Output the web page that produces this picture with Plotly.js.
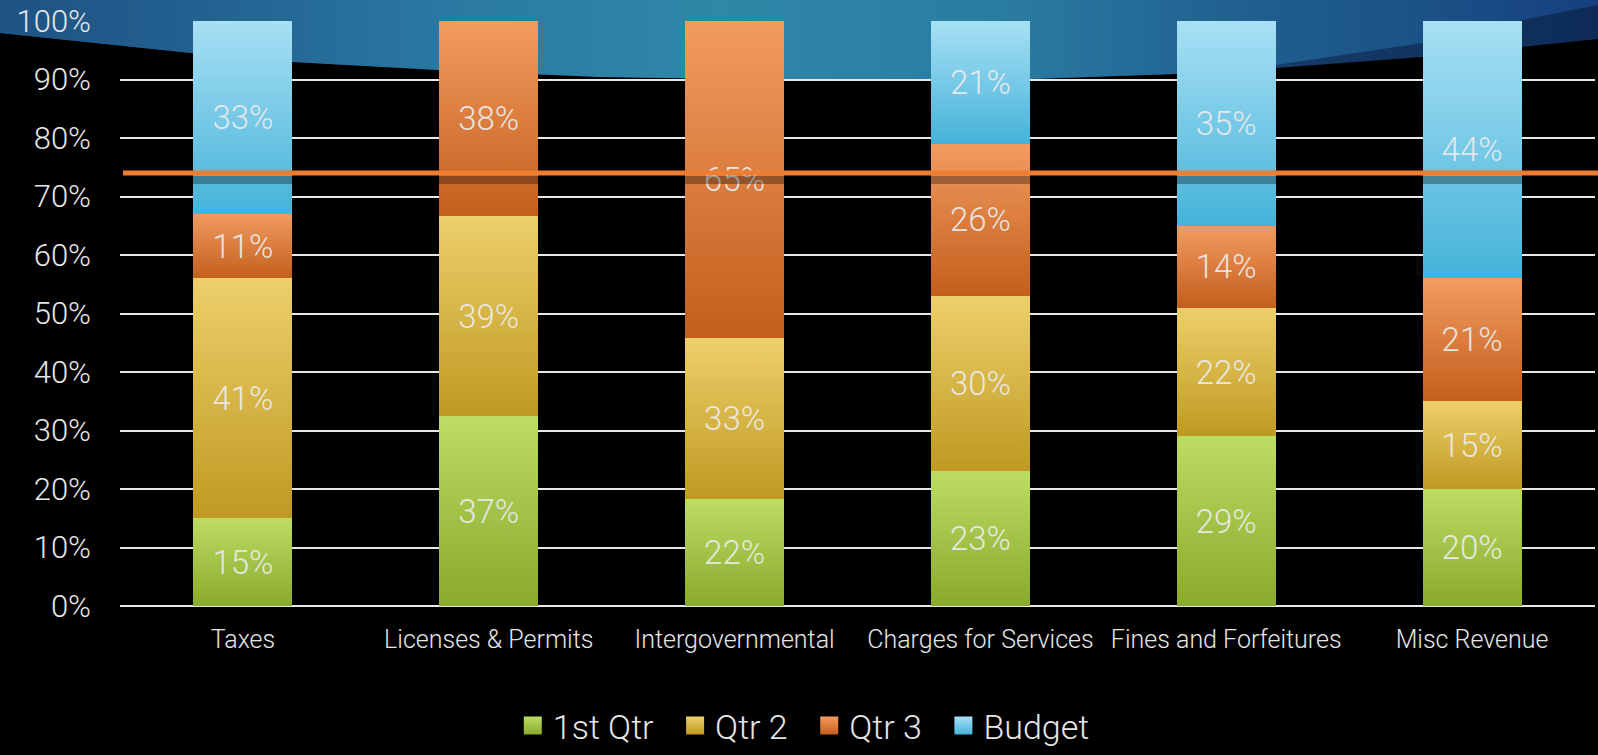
<!DOCTYPE html>
<html>
<head>
<meta charset="utf-8">
<script src="https://cdn.plot.ly/plotly-3.0.1.min.js"></script>
<style>
  html, body { margin: 0; padding: 0; background: #000; }
  #chart { width: 1598px; height: 755px; }
</style>
</head>
<body>
<div id="chart"></div>
<script>
// ---- data ----
var categories = ["Taxes", "Licenses & Permits", "Intergovernmental", "Charges for Services", "Fines and Forfeitures", "Misc Revenue"];
var seriesNames = ["1st Qtr", "Qtr 2", "Qtr 3", "Budget"];
var qtr1   = [15, 37, 22, 23, 29, 20];
var qtr2   = [41, 39, 33, 30, 22, 15];
var qtr3   = [11, 38, 65, 26, 14, 21];
var budget = [33, 0, 0, 21, 35, 44];
var targetLine = [74];
var yTickVals = [0, 10, 20, 30, 40, 50, 60, 70, 80, 90, 100];

// ---- styles ----
var W = 1598, H = 755;
var M = { l: 120, r: 3, t: 21, b: 149 };
var plotW = W - M.l - M.r, plotH = H - M.t - M.b;
var FONT = "Roboto, 'Open Sans', sans-serif";
var solid = ["#A3C54A", "#D8B545", "#DC7A3C", "#6DC3E3"];
var grads = [
  ["#BCDC62", "#8AAA2E"],
  ["#EDCF6B", "#BF9A22"],
  ["#F29B61", "#C35F1C"],
  ["#A8E0F4", "#45B3D9"]
];
var seriesVals = [qtr1, qtr2, qtr3, budget];
var NB = "\u00a0\u00a0";

var data = seriesVals.map(function (vals, i) {
  return {
    type: "bar",
    name: seriesNames[i] + (i < seriesVals.length - 1 ? NB : ""),
    x: categories,
    y: vals,
    text: vals.map(function (v) { return v ? v + "%" : ""; }),
    textposition: "inside",
    insidetextanchor: "middle",
    textangle: 0,
    constraintext: "none",
    textfont: { family: FONT, size: 33, color: "rgba(235,235,235,0.95)", weight: 300 },
    marker: { color: solid[i], line: { width: 0 } },
    hoverinfo: "skip"
  };
});

// decorative wave background (theme artwork)
var bgSvg =
  '<svg xmlns="http://www.w3.org/2000/svg" width="1598" height="755" viewBox="0 0 1598 755">' +
  '<defs>' +
  '<linearGradient id="wb" x1="0" y1="0" x2="1" y2="0">' +
  '<stop offset="0" stop-color="#1F5384"/>' +
  '<stop offset="0.12" stop-color="#22608F"/>' +
  '<stop offset="0.28" stop-color="#2A79A2"/>' +
  '<stop offset="0.45" stop-color="#2F88A8"/>' +
  '<stop offset="0.63" stop-color="#2A7BA2"/>' +
  '<stop offset="0.78" stop-color="#205F8F"/>' +
  '<stop offset="0.89" stop-color="#1B5287"/>' +
  '<stop offset="1" stop-color="#163F7E"/>' +
  '</linearGradient>' +
  '<linearGradient id="wn" x1="0" y1="0" x2="1" y2="0">' +
  '<stop offset="0.75" stop-color="#173F6C"/>' +
  '<stop offset="1" stop-color="#0E2B58"/>' +
  '</linearGradient>' +
  '</defs>' +
  '<path fill="url(#wn)" d="M0,0 L1598,0 L1598,39 L1522,47 L1422,57 L1276,68 L1175,74 L1030,79 L880,80 L740,79 L600,77 L439,70 L293,62 L191,53 L0,33 Z"/>' +
  '<path fill="url(#wb)" d="M0,0 L1598,0 L1598,5 L1522,20 L1422,43 L1276,65 L1175,74 L1030,79 L880,80 L740,79 L600,77 L439,70 L293,62 L191,53 L0,33 Z"/>' +
  '</svg>';

var tY = targetLine[0] / 100;

var layout = {
  width: W,
  height: H,
  margin: M,
  paper_bgcolor: "#000000",
  plot_bgcolor: "rgba(0,0,0,0)",
  barmode: "stack",
  barnorm: "percent",
  bargap: 0.597,
  showlegend: true,
  font: { family: FONT, color: "#E6E6E6", weight: 300 },
  xaxis: {
    type: "category",
    showgrid: false,
    zeroline: false,
    showline: false,
    ticks: "",
    ticklabelstandoff: 16,
    tickfont: { family: FONT, size: 25, color: "#E6E6E6", weight: 300 },
    fixedrange: true,
    automargin: false
  },
  yaxis: {
    range: [0, 100],
    tickvals: yTickVals,
    ticktext: yTickVals.map(function (v) { return v + "%"; }),
    showgrid: true,
    gridcolor: "#E8E8E8",
    gridwidth: 2,
    zeroline: true,
    zerolinecolor: "#E8E8E8",
    zerolinewidth: 2,
    showline: false,
    ticks: "",
    ticklabelstandoff: 28,
    tickfont: { family: FONT, size: 31, color: "#E6E6E6", weight: 300 },
    fixedrange: true,
    automargin: false
  },
  legend: {
    orientation: "h",
    traceorder: "normal",
    xref: "container",
    yref: "container",
    x: 0.503,
    xanchor: "center",
    y: -0.009,
    yanchor: "bottom",
    font: { family: FONT, size: 34, color: "#E6E6E6", weight: 300 },
    bgcolor: "rgba(0,0,0,0)",
    borderwidth: 0,
    itemclick: false
  },
  images: [{
    source: "data:image/svg+xml;charset=utf-8," + encodeURIComponent(bgSvg),
    xref: "paper", yref: "paper",
    x: -M.l / plotW, y: 1 + M.t / plotH,
    sizex: W / plotW, sizey: H / plotH,
    xanchor: "left", yanchor: "top",
    sizing: "stretch",
    layer: "below"
  }],
  shapes: [
    {
      type: "line", xref: "paper", yref: "paper",
      x0: 0, x1: 1.002, y0: tY - 7 / plotH, y1: tY - 7 / plotH,
      line: { color: "rgba(0,0,0,0.32)", width: 8 },
      layer: "above"
    },
    {
      type: "line", xref: "paper", yref: "paper",
      x0: 0.002, x1: 1.002, y0: tY, y1: tY,
      line: { color: "#ED7D31", width: 5 },
      layer: "above"
    }
  ]
};

var gd = document.getElementById("chart");
Plotly.newPlot(gd, data, layout, { staticPlot: true, displayModeBar: false }).then(function () {
  var NS = "http://www.w3.org/2000/svg";
  var svg = gd.querySelector("svg.main-svg");
  var defs = svg.querySelector("defs") || svg.insertBefore(document.createElementNS(NS, "defs"), svg.firstChild);
  grads.forEach(function (g, i) {
    var lg = document.createElementNS(NS, "linearGradient");
    lg.setAttribute("id", "barGrad" + i);
    lg.setAttribute("x1", "0"); lg.setAttribute("y1", "0");
    lg.setAttribute("x2", "0"); lg.setAttribute("y2", "1");
    [[0, g[0]], [1, g[1]]].forEach(function (s) {
      var st = document.createElementNS(NS, "stop");
      st.setAttribute("offset", s[0]);
      st.setAttribute("stop-color", s[1]);
      lg.appendChild(st);
    });
    defs.appendChild(lg);
  });
  gd.querySelectorAll(".barlayer .trace").forEach(function (t, i) {
    var idx = i;
    try { idx = t.__data__[0].trace.index; } catch (e) {}
    t.querySelectorAll("path").forEach(function (p) {
      p.style.fill = "url(#barGrad" + idx + ")";
    });
  });
  gd.querySelectorAll(".legend .traces").forEach(function (t, i) {
    var idx = i;
    try { idx = t.__data__[0].trace.index; } catch (e) {}
    t.querySelectorAll(".legendpoints path").forEach(function (p) {
      p.setAttribute("d", "M9,9H-9V-9H9Z");
      p.style.fill = "url(#barGrad" + idx + ")";
      p.style.stroke = "none";
      p.style.strokeWidth = "0";
    });
  });
});
</script>
</body>
</html>
